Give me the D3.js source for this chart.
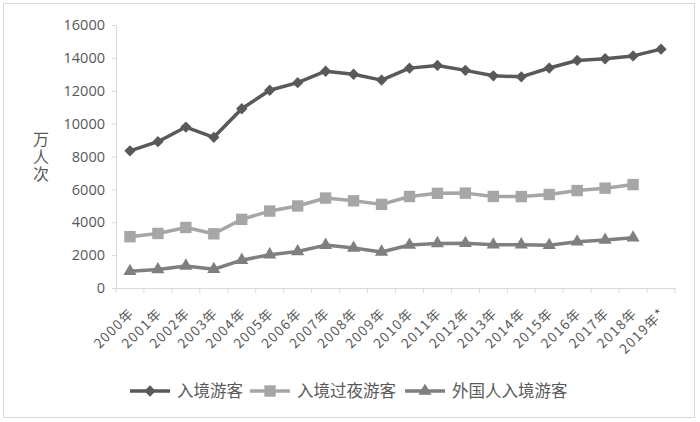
<!DOCTYPE html>
<html>
<head>
<meta charset="utf-8">
<script src="https://cdn.jsdelivr.net/npm/d3@7"></script>
<style>
  body { margin: 0; background: #fff; }
  svg text { fill: #595959; }
</style>
</head>
<body>
<div id="chart"></div>
<script>
// categories and series (万人次)
const years = ["2000年", "2001年", "2002年", "2003年", "2004年", "2005年", "2006年", "2007年", "2008年", "2009年",
    "2010年", "2011年", "2012年", "2013年", "2014年", "2015年", "2016年", "2017年", "2018年", "2019年*"];
const inbound = [8344, 8901, 9791, 9166, 10904, 12029, 12494, 13187, 13003, 12648,
    13376, 13542, 13241, 12908, 12849, 13382, 13844, 13948, 14120, 14531];
const overnight = [3122, 3317, 3680, 3297, 4176, 4681, 4991, 5472, 5305, 5088,
    5566, 5758, 5772, 5569, 5562, 5689, 5927, 6074, 6290];
const foreign = [1016, 1122, 1344, 1140, 1693, 2026, 2221, 2611, 2433, 2194,
    2613, 2711, 2719, 2629, 2636, 2599, 2815, 2917, 3054];
const yTicks = [0, 2000, 4000, 6000, 8000, 10000, 12000, 14000, 16000];
const seriesNames = ["入境游客", "入境过夜游客", "外国人入境游客"];

const W = 700, H = 422;
const cjk = "'Noto Sans CJK SC', sans-serif";
const num = "'Open Sans', 'Noto Sans', sans-serif";

const svg = d3.select("#chart").append("svg")
    .attr("width", W)
    .attr("height", H);

// outer frame
svg.append("rect")
    .attr("x", 3.5).attr("y", 3.5)
    .attr("width", 691).attr("height", 414)
    .attr("fill", "#fff")
    .attr("stroke", "#d9d9d9");

// scales
const x = d3.scaleBand().domain(years).range([116, 675]);
const y = d3.scaleLinear().domain([0, 16000]).range([288, 25]);
const cx = d => x(d) + x.bandwidth() / 2;

// y axis
const yAxis = svg.append("g")
    .attr("transform", "translate(116,0)")
    .call(d3.axisLeft(y).tickValues(yTicks).tickSize(4).tickSizeOuter(0).tickPadding(7).tickFormat(d => d));
yAxis.selectAll("path, line").attr("stroke", "#d9d9d9");
yAxis.selectAll("text")
    .style("font-family", num)
    .style("font-size", "14.5px")
    .attr("fill", "#595959");

// x axis (line + ticks at category boundaries)
const xAxis = svg.append("g")
    .attr("transform", "translate(0,288)")
    .call(d3.axisBottom(x).tickSize(0).tickSizeOuter(0).tickFormat(""));
xAxis.select("path").attr("stroke", "#d9d9d9");
xAxis.selectAll(".tick").remove();
const bounds = years.map(d => x(d)).concat([x.range()[1]]);
xAxis.selectAll(".bound")
    .data(bounds)
    .enter().append("line")
    .attr("class", "bound")
    .attr("x1", d => d).attr("x2", d => d)
    .attr("y1", 0).attr("y2", 5)
    .attr("stroke", "#d9d9d9");

// rotated category labels
svg.append("g").selectAll("text")
    .data(years)
    .enter().append("text")
    .attr("transform", d => `translate(${cx(d) + 5},314) rotate(-45)`)
    .attr("text-anchor", "end")
    .style("font-family", cjk)
    .style("font-size", "13.5px")
    .style("letter-spacing", "1.3px")
    .text(d => d);

// y title, vertical
svg.append("text")
    .attr("transform", "translate(41,131)")
    .attr("text-anchor", "start")
    .style("writing-mode", "vertical-rl")
    .style("text-orientation", "upright")
    .style("font-family", cjk)
    .style("font-size", "16px")
    .style("letter-spacing", "1.5px")
    .text("万人次");

// series definitions
const series = [
    {name: seriesNames[0], values: inbound, color: "#595959", symbol: d3.symbolSquare, size: 64, rot: 45},
    {name: seriesNames[1], values: overnight, color: "#a6a6a6", symbol: d3.symbolSquare, size: 130, rot: 0},
    {name: seriesNames[2], values: foreign, color: "#7f7f7f", symbol: d3.symbolTriangle, size: 75, rot: 0}
];

const line = d3.line()
    .x(d => cx(d.year))
    .y(d => y(d.value));

series.forEach(s => {
    const pts = s.values.map((v, i) => ({year: years[i], value: v}));
    const g = svg.append("g");
    g.append("path")
        .datum(pts)
        .attr("fill", "none")
        .attr("stroke", s.color)
        .attr("stroke-width", 3.5)
        .attr("stroke-linejoin", "round")
        .attr("d", line);
    g.selectAll(".mark")
        .data(pts)
        .enter().append("path")
        .attr("class", "mark")
        .attr("transform", d => `translate(${cx(d.year)},${y(d.value)}) rotate(${s.rot})`)
        .attr("d", d3.symbol().type(s.symbol).size(s.size))
        .attr("fill", s.color);
});

// legend
const legendX = [130, 250, 405];
const legend = svg.append("g").attr("transform", "translate(0,391)");
series.forEach((s, i) => {
    const g = legend.append("g").attr("transform", `translate(${legendX[i]},0)`);
    g.append("line")
        .attr("x1", 0).attr("x2", 40)
        .attr("stroke", s.color)
        .attr("stroke-width", 3.5);
    g.append("path")
        .attr("transform", `translate(20,0) rotate(${s.rot})`)
        .attr("d", d3.symbol().type(s.symbol).size(s.size))
        .attr("fill", s.color);
    g.append("text")
        .attr("x", 47)
        .attr("y", 6)
        .style("font-family", cjk)
        .style("font-size", "16.5px")
        .text(s.name);
});
</script>
</body>
</html>
